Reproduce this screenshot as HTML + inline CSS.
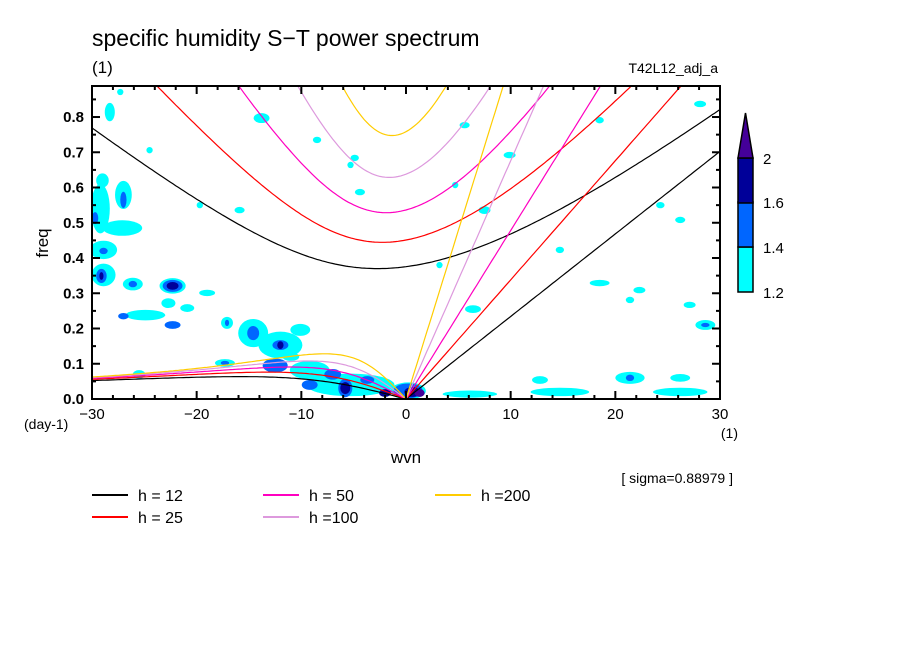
<!DOCTYPE html>
<html><head><meta charset="utf-8">
<style>
html,body{margin:0;padding:0;background:#fff;}
svg text{font-family:"Liberation Sans",sans-serif;fill:#000;}
</style></head>
<body>
<svg id="chart" width="904" height="654" viewBox="0 0 904 654" xmlns="http://www.w3.org/2000/svg">
<text x="92" y="46" font-size="23">specific humidity S−T power spectrum</text>
<text x="92" y="73" font-size="17">(1)</text>
<text x="718" y="73" font-size="14" text-anchor="end">T42L12_adj_a</text>
<text x="48" y="243" font-size="17" text-anchor="middle" transform="rotate(-90 48 243)">freq</text>
<text x="24" y="429" font-size="14">(day-1)</text>
<text x="738" y="438" font-size="14" text-anchor="end">(1)</text>
<text x="406" y="463" font-size="17" text-anchor="middle">wvn</text>
<text x="733" y="483" font-size="14" text-anchor="end">[ sigma=0.88979 ]</text>
<clipPath id="plotclip"><rect x="92" y="86" width="628" height="313"/></clipPath>
<g id="shade" clip-path="url(#plotclip)"></g>
<g id="curves" clip-path="url(#plotclip)"></g>
<g id="axes"></g>
<g id="cbar"></g>
<g id="legend"></g>
</svg>
<script>
// ---- data ----
const depths = [12, 25, 50, 100, 200];
const depthColors = ["#000000", "#ff0000", "#ff00c0", "#dd99dd", "#ffcc00"];
const depthLabels = ["h = 12", "h = 25", "h = 50", "h =100", "h =200"];
const levels = [1.2, 1.4, 1.6, 2.0];
const levelColors = ["#00ffff", "#0066ff", "#000099", "#440099"];
const levelLabels = ["1.2", "1.4", "1.6", "2"];
const xTicks = [-30, -20, -10, 0, 10, 20, 30];
const yTicks = [0.0, 0.1, 0.2, 0.3, 0.4, 0.5, 0.6, 0.7, 0.8];
// power blobs: [wavenumber, frequency, half-width dk, half-height df, level index]
const blobK = [-29.2,-27.0,-27.1,-29.7,-28.9,-28.9,-28.9,-29.1,-29.1,-26.1,-26.1,-22.3,-22.3,-22.3,-22.7,-20.9,-24.9,-27.0,-22.3,-19.0,-17.1,-17.1,-14.6,-14.6,-12.0,-12.0,-12.0,-17.3,-17.3,-10.1,-9.2,-9.2,-5.3,-5.8,-5.8,-3.7,-2.0,0.2,0.2,0.6,1.3,6.1,14.7,26.2,21.4,21.4,28.6,28.6,27.1,18.5,22.3,6.4,3.2,7.5,9.9,14.7,26.2,24.3,-28.3,-13.8,-8.5,-4.9,5.6,18.5,28.1,-15.9,-19.7,-4.4,-5.3,-27.3,12.8,26.2,21.4,-24.5,4.7,-27.0,-12.5,-7.0,-29.0,-25.5,-11.0];
const blobF = [0.540,0.579,0.485,0.513,0.423,0.420,0.352,0.349,0.349,0.326,0.326,0.321,0.321,0.321,0.272,0.258,0.238,0.235,0.210,0.301,0.216,0.216,0.187,0.187,0.153,0.153,0.153,0.102,0.102,0.196,0.082,0.040,0.040,0.031,0.031,0.054,0.017,0.023,0.023,0.020,0.017,0.014,0.020,0.020,0.060,0.060,0.210,0.210,0.267,0.329,0.309,0.255,0.380,0.536,0.692,0.423,0.508,0.550,0.814,0.797,0.735,0.684,0.777,0.791,0.837,0.536,0.550,0.587,0.664,0.871,0.054,0.060,0.281,0.706,0.607,0.565,0.095,0.070,0.620,0.070,0.120];
const blobDK = [0.9,0.8,1.9,0.3,1.3,0.4,1.15,0.5,0.2,0.95,0.4,1.25,0.95,0.57,0.67,0.67,1.9,0.5,0.76,0.76,0.57,0.2,1.43,0.57,2.1,0.76,0.3,0.95,0.4,0.95,1.9,0.76,4.2,0.67,0.48,0.67,0.57,1.7,1.4,0.76,0.48,2.6,2.8,2.6,1.4,0.4,0.95,0.4,0.57,0.95,0.57,0.76,0.3,0.57,0.57,0.4,0.48,0.4,0.48,0.76,0.4,0.4,0.48,0.4,0.57,0.48,0.3,0.48,0.3,0.3,0.76,0.95,0.4,0.3,0.3,0.3,1.2,0.8,0.6,0.6,0.8];
const blobDF = [0.07,0.04,0.022,0.017,0.026,0.009,0.032,0.02,0.011,0.018,0.009,0.022,0.017,0.011,0.014,0.011,0.015,0.009,0.011,0.009,0.017,0.009,0.04,0.02,0.038,0.014,0.011,0.011,0.006,0.017,0.026,0.014,0.032,0.026,0.017,0.011,0.011,0.024,0.021,0.014,0.011,0.01,0.012,0.012,0.017,0.009,0.014,0.006,0.009,0.009,0.009,0.011,0.009,0.011,0.009,0.009,0.009,0.009,0.026,0.014,0.009,0.009,0.009,0.009,0.009,0.009,0.009,0.009,0.009,0.009,0.011,0.011,0.009,0.009,0.009,0.023,0.02,0.015,0.02,0.012,0.012];
const blobL = [0,0,0,1,0,1,0,1,2,0,1,0,1,2,0,0,0,1,1,0,0,1,0,1,0,1,2,0,1,0,0,1,0,1,2,1,2,0,1,2,3,0,0,0,0,1,0,1,0,0,0,0,0,0,0,0,0,0,0,0,0,0,0,0,0,0,0,0,0,0,0,0,0,0,0,1,1,1,0,0,0];

// ---- axes ----
const X0 = 92, X1 = 720, Y0 = 399, Y1 = 86;
const kMin = -30, kMax = 30, fMin = 0, fMax = 0.888;
const sx = k => X0 + (k - kMin) / (kMax - kMin) * (X1 - X0);
const sy = f => Y0 - (f - fMin) / (fMax - fMin) * (Y0 - Y1);
const NS = "http://www.w3.org/2000/svg";
function mk(tag, attrs, parent) {
  const e = document.createElementNS(NS, tag);
  for (const a in attrs) e.setAttribute(a, attrs[a]);
  parent.appendChild(e);
  return e;
}

// shading
const shade = document.getElementById("shade");
const order = blobL.map((l, i) => i).sort((a, b) => blobL[a] - blobL[b]);
order.forEach(i => {
  const cx = sx(blobK[i]), cy = sy(blobF[i]);
  const rx = blobDK[i] / (kMax - kMin) * (X1 - X0);
  const ry = blobDF[i] / (fMax - fMin) * (Y0 - Y1);
  const el = mk("ellipse", {cx: cx, cy: cy, rx: Math.max(rx, 2), ry: Math.max(ry, 2), fill: levelColors[blobL[i]]}, shade);
  
  
});

// dispersion curves (shallow-water theory)
const g = 9.81, a = 6.371e6, Om = 7.292e-5, beta = 2 * Om / a;
const toCpd = w => w * 86400 / (2 * Math.PI);
function roots(s, c) {
  const k = s / a;
  const p = -(c * c * k * k + 3 * beta * c), q = -beta * c * c * k;
  const m = 2 * Math.sqrt(-p / 3);
  let arg = 3 * q / (2 * p) * Math.sqrt(-3 / p);
  arg = Math.max(-1, Math.min(1, arg));
  const th = Math.acos(arg) / 3;
  return [0, 1, 2].map(j => m * Math.cos(th - 2 * Math.PI * j / 3));
}
const curves = document.getElementById("curves");
depths.forEach((h, di) => {
  const c = Math.sqrt(g * h);
  let ig = [], ro = [], kv = [];
  for (let s = -30; s <= 30.001; s += 0.25) {
    const r = roots(s, c);
    ig.push([s, toCpd(Math.max(...r))]);
    if (s <= 0) {
      const pos = r.filter(v => v >= 0).sort((x, y) => x - y);
      ro.push([s, toCpd(pos.length ? pos[0] : 0)]);
    } else {
      kv.push([s, toCpd(c * s / a)]);
    }
  }
  kv.unshift([0, 0]);
  [["ig-n1", ig], ["rossby-n1", ro], ["kelvin", kv]].forEach(([nm, pts]) => {
    const d = pts.map((p, i) => (i ? "L" : "M") + sx(p[0]).toFixed(1) + " " + sy(p[1]).toFixed(1)).join(" ");
    const el = mk("path", {d: d, fill: "none", stroke: depthColors[di], "stroke-width": 1.2}, curves);
    
    
  });
});

// axes frame & ticks
const axes = document.getElementById("axes");
const fr = mk("rect", {x: X0, y: Y1, width: X1 - X0, height: Y0 - Y1, fill: "none", stroke: "#000", "stroke-width": 2}, axes);


for (let k = -30; k <= 30; k += 2) {
  const len = (k % 10 === 0) ? 8 : 4;
  mk("line", {x1: sx(k), x2: sx(k), y1: Y0, y2: Y0 - len, stroke: "#000", "stroke-width": 2}, axes);
  mk("line", {x1: sx(k), x2: sx(k), y1: Y1, y2: Y1 + len, stroke: "#000", "stroke-width": 2}, axes);
}
for (let i = 0; i <= 17; i++) {
  const f = i * 0.05, len = (i % 2 === 0) ? 8 : 4;
  if (f > fMax) break;
  mk("line", {x1: X0, x2: X0 + len, y1: sy(f), y2: sy(f), stroke: "#000", "stroke-width": 2}, axes);
  mk("line", {x1: X1, x2: X1 - len, y1: sy(f), y2: sy(f), stroke: "#000", "stroke-width": 2}, axes);
}
xTicks.forEach(k => {
  const t = mk("text", {x: sx(k), y: 419, "font-size": 15, "text-anchor": "middle"}, axes);
  t.textContent = (k < 0 ? "−" + (-k) : String(k));
  
  
});
yTicks.forEach(f => {
  const t = mk("text", {x: 84, y: sy(f) + 5, "font-size": 15, "font-weight": "bold", "text-anchor": "end"}, axes);
  t.textContent = f.toFixed(1);
  
  
});

// colorbar
const cb = document.getElementById("cbar");
const cbX = 738, cbW = 15, segTop = [247, 202, 158], segH = 45;
for (let i = 0; i < 3; i++) {
  const r = mk("rect", {x: cbX, y: segTop[i], width: cbW, height: segH, fill: levelColors[i], stroke: "#000", "stroke-width": 1.5}, cb);
  
  
}
const tri = mk("polygon", {points: `${cbX},158 ${cbX + cbW},158 ${cbX + cbW / 2},113`, fill: levelColors[3], stroke: "#000", "stroke-width": 1.5}, cb);


const cbY = [292, 247, 202, 158];
levelLabels.forEach((lab, i) => {
  const t = mk("text", {x: 763, y: cbY[i] + 6, "font-size": 15}, cb);
  t.textContent = lab;
  
  
});

// legend
const lg = document.getElementById("legend");
const colX = [92, 263, 435], rowY = [495, 517];
depths.forEach((h, i) => {
  const col = Math.floor(i / 2), row = i % 2;
  const y = rowY[row], x = colX[col];
  const g2 = mk("g", {}, lg);
  
  
  mk("line", {x1: x, x2: x + 36, y1: y, y2: y, stroke: depthColors[i], "stroke-width": 2}, g2);
  const t = mk("text", {x: x + 46, y: y + 6, "font-size": 16}, g2);
  t.textContent = depthLabels[i];
});
</script>
</body></html>
